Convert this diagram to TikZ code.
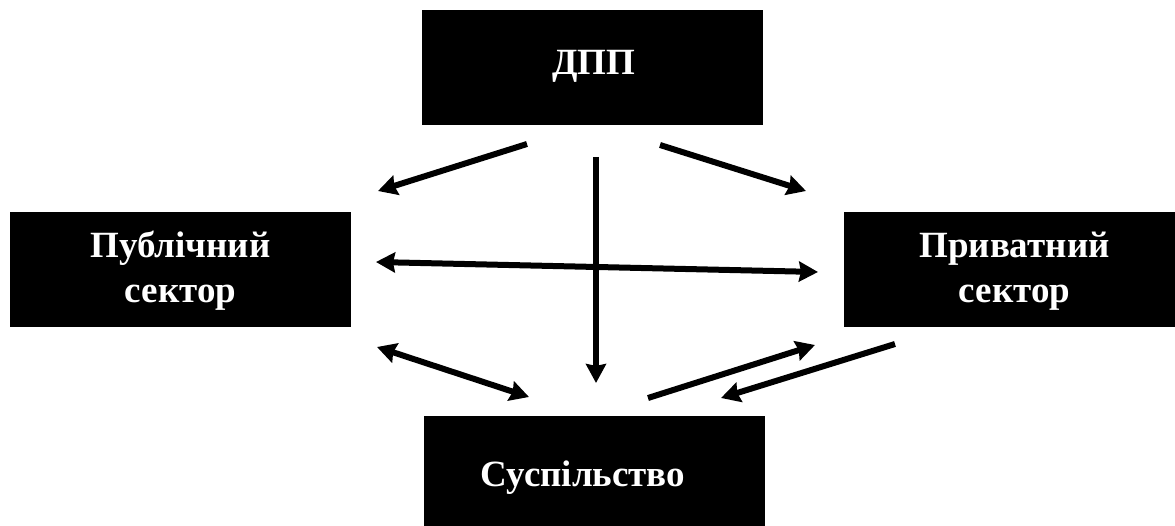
\documentclass[tikz,border=0pt]{standalone}
\usepackage{fontspec}
\setmainfont{Liberation Serif}
\usetikzlibrary{arrows.meta}
\begin{document}
\begin{tikzpicture}[x=1pt,y=-1pt,
  blk/.style={rectangle,fill=black,draw=none,minimum width=341pt,minimum height=115pt,inner sep=0pt},
  lbl/.style={text=white,align=center,font=\bfseries\fontsize{37}{45}\selectfont,inner sep=0pt},
  arr/.style={line width=6pt,-{Triangle[length=19pt,width=20pt,inset=2pt]}},
  darr/.style={line width=6pt,{Triangle[length=19pt,width=20pt,inset=2pt]}-{Triangle[length=19pt,width=20pt,inset=2pt]}}]
\useasboundingbox (0,0) rectangle (1175,526);
\clip (0,0) rectangle (1175,526);
\node[blk] (dpp) at (592.5,67.5) {};
\node[blk] (pub) at (180.5,269.5) {};
\node[blk] (priv) at (1014.5,269.5) {};
\node[blk] (soc) at (594,473.5) {};
\node[lbl] (dppt) at (594,66) {ДПП};
\node[lbl] (pubt) at (180.5,271) {Публічний\\сектор};
\node[lbl] (privt) at (1014.5,271) {Приватний\\сектор};
\node[lbl] (soct) at (583,478) {Суспільство};
\coordinate (a1s) at (527,144); \coordinate (a1e) at (378,191);
\coordinate (a2s) at (660,145); \coordinate (a2e) at (806,191);
\coordinate (a3s) at (596,157); \coordinate (a3e) at (596,383);
\coordinate (a4s) at (376,262); \coordinate (a4e) at (818,272);
\coordinate (a5s) at (377,347); \coordinate (a5e) at (529,397);
\coordinate (a6s) at (648,398); \coordinate (a6e) at (815,345);
\coordinate (a7s) at (895,344); \coordinate (a7e) at (721,398);
\draw[arr] (a1s) -- (a1e);
\draw[arr] (a2s) -- (a2e);
\draw[arr] (a3s) -- (a3e);
\draw[darr] (a4s) -- (a4e);
\draw[darr] (a5s) -- (a5e);
\draw[arr] (a6s) -- (a6e);
\draw[arr] (a7s) -- (a7e);
\end{tikzpicture}
\end{document}
